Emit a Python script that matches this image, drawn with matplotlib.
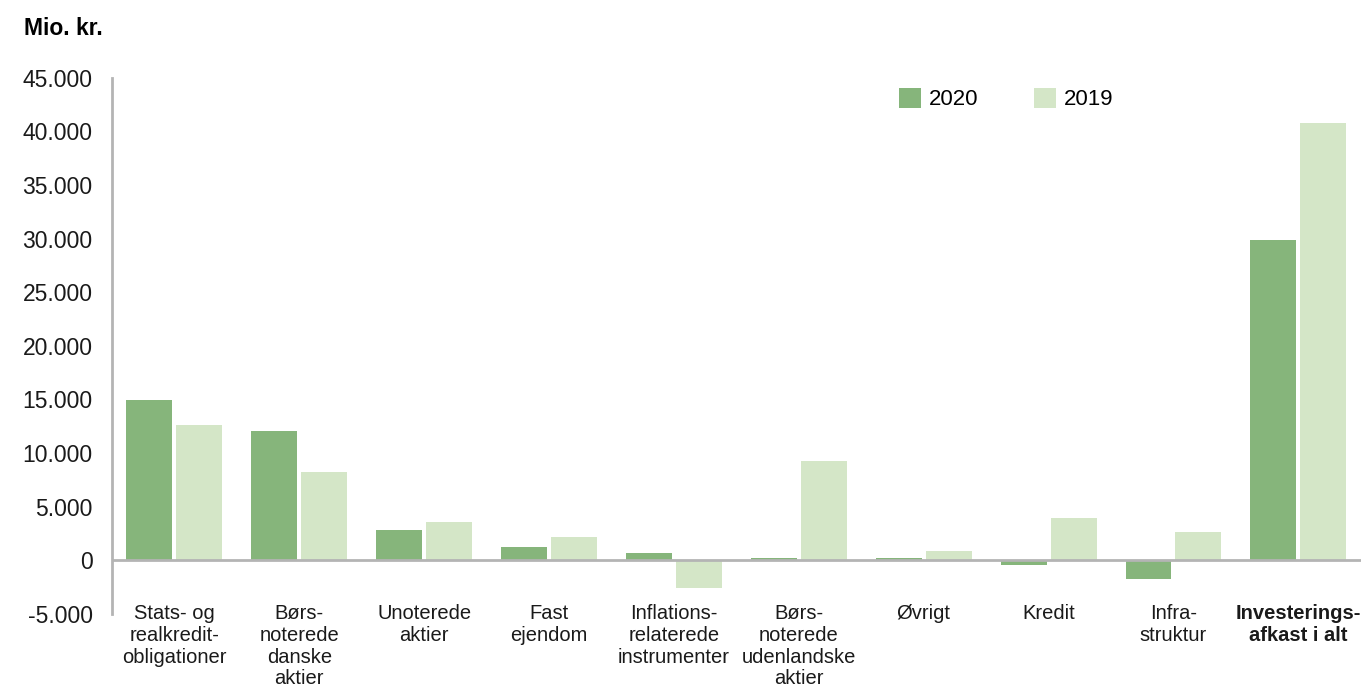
import matplotlib.pyplot as plt
import numpy as np
from matplotlib.ticker import FuncFormatter

plt.rcParams['font.family'] = ['Liberation Sans', 'DejaVu Sans']

categories = [
    'Stats- og\nrealkredit-\nobligationer',
    'Børs-\nnoterede\ndanske\naktier',
    'Unoterede\naktier',
    'Fast\nejendom',
    'Inflations-\nrelaterede\ninstrumenter',
    'Børs-\nnoterede\nudenlandske\naktier',
    'Øvrigt',
    'Kredit',
    'Infra-\nstruktur',
    'Investerings-\nafkast i alt',
]
values_2020 = [14950, 12050, 2800, 1200, 650, 200, 250, -470, -1710, 29900]
values_2019 = [12650, 8200, 3600, 2150, -2550, 9300, 840, 3980, 2650, 40750]
yticks = list(range(-5000, 45001, 5000))

green_dark = '#86b57b'
green_light = '#d4e6c7'
axis_grey = '#b4b4b4'

fig = plt.figure(figsize=(13.69, 6.89), dpi=100)
ax = fig.add_axes([0.0818, 0.109, 0.9122, 0.778])

x = np.arange(len(categories))
w = 0.368
off = 0.2
ax.bar(x - off, values_2020, width=w, color=green_dark, label='2020', zorder=2)
ax.bar(x + off, values_2019, width=w, color=green_light, label='2019', zorder=2)

ax.set_xlim(-0.5, len(categories) - 0.5)
ax.set_ylim(-5000, 45000)
ax.set_yticks(yticks)
ax.yaxis.set_major_formatter(FuncFormatter(lambda v, p: f'{int(v):,}'.replace(',', '.')))
ax.axhline(0, color=axis_grey, lw=2, zorder=3)

for s in ['top', 'right', 'bottom']:
    ax.spines[s].set_visible(False)
ax.spines['left'].set_color(axis_grey)
ax.spines['left'].set_linewidth(2)

ax.tick_params(axis='y', length=0, pad=14, labelsize=16.5, labelcolor='#1a1a1a')
ax.set_xticks(x)
ax.set_xticklabels(categories, fontsize=14.5, linespacing=1.18, color='#1a1a1a')
ax.tick_params(axis='x', length=0, pad=-7)
ax.get_xticklabels()[-1].set_fontweight('bold')

fig.text(0.0175, 0.958, 'Mio. kr.', fontsize=16.5, fontweight='bold', va='center', ha='left')

ax.legend(loc='upper left', bbox_to_anchor=(0.614, 1.019), ncol=2, frameon=False,
          fontsize=16, handlelength=1.0, handleheight=1.0, handletextpad=0.35,
          columnspacing=2.5)

fig.savefig('out.png', dpi=100)
